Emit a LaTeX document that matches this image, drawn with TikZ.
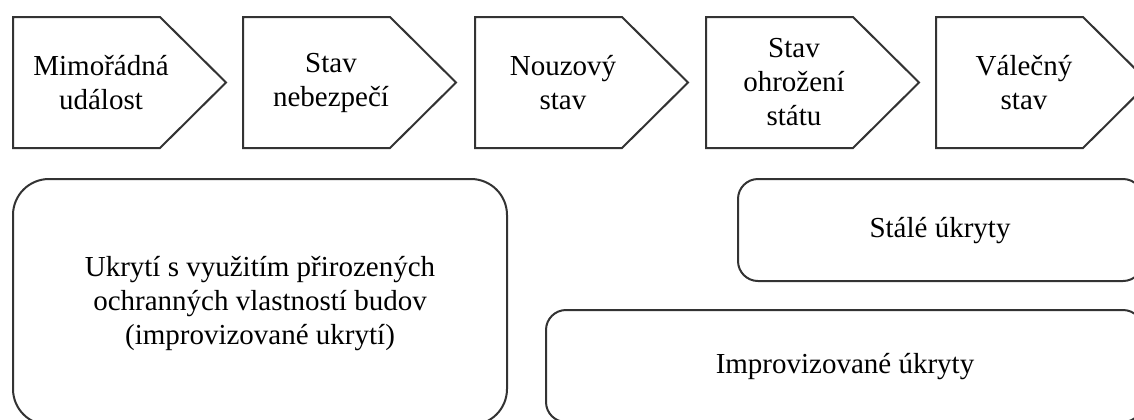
\documentclass[tikz,border=0pt]{standalone}
\usepackage{fontspec}
\setmainfont{Liberation Serif}
\tikzstyle{outline} = [line width=1pt,draw=black!80]
\tikzstyle{boxtext} = [align=center,inner sep=0pt,font=\fontsize{14.5}{17}\selectfont]

\begin{document}
\begin{tikzpicture}[x=0.5pt,y=-0.5pt]
	\useasboundingbox (0,0) rectangle (1134,419);
	\clip (0,0) rectangle (1134,419);

	% define constants
	\def \yt {17}
	\def \yb {148}
	\def \sh {147}
	\def \tip {213}

	% Draw the states
	\foreach \x/\name/\txt in {13/mu/{Mimořádná\\událost}, 243/sn/{Stav\\nebezpečí},
		475/ns/{Nouzový\\stav}, 706/so/{Stav\\ohrožení\\státu}, 936/vs/{Válečný\\stav}}
	{
		\draw[outline] (\x,\yt) -- (\x+\sh,\yt) -- (\x+\tip,{(\yt+\yb)/2})
			-- (\x+\sh,\yb) -- (\x,\yb) -- cycle;
		\node[boxtext] (\name) at (\x+88,{(\yt+\yb)/2}) {\txt};
	}

	% Draw the shelters
	\draw[outline,rounded corners=18pt] (13,179) rectangle (507,425);
	\node[boxtext] (ukryti) at (260,304)
		{Ukrytí s využitím přirozených\\ochranných vlastností budov\\(improvizované ukrytí)};

	\draw[outline,rounded corners=10pt] (738,179) rectangle (1143,281);
	\node[boxtext] (stale) at (940,231) {Stálé úkryty};

	\draw[outline,rounded corners=10pt] (546,310) rectangle (1143,422);
	\node[boxtext] (impro) at (845,367) {Improvizované úkryty};
\end{tikzpicture}
\end{document}
